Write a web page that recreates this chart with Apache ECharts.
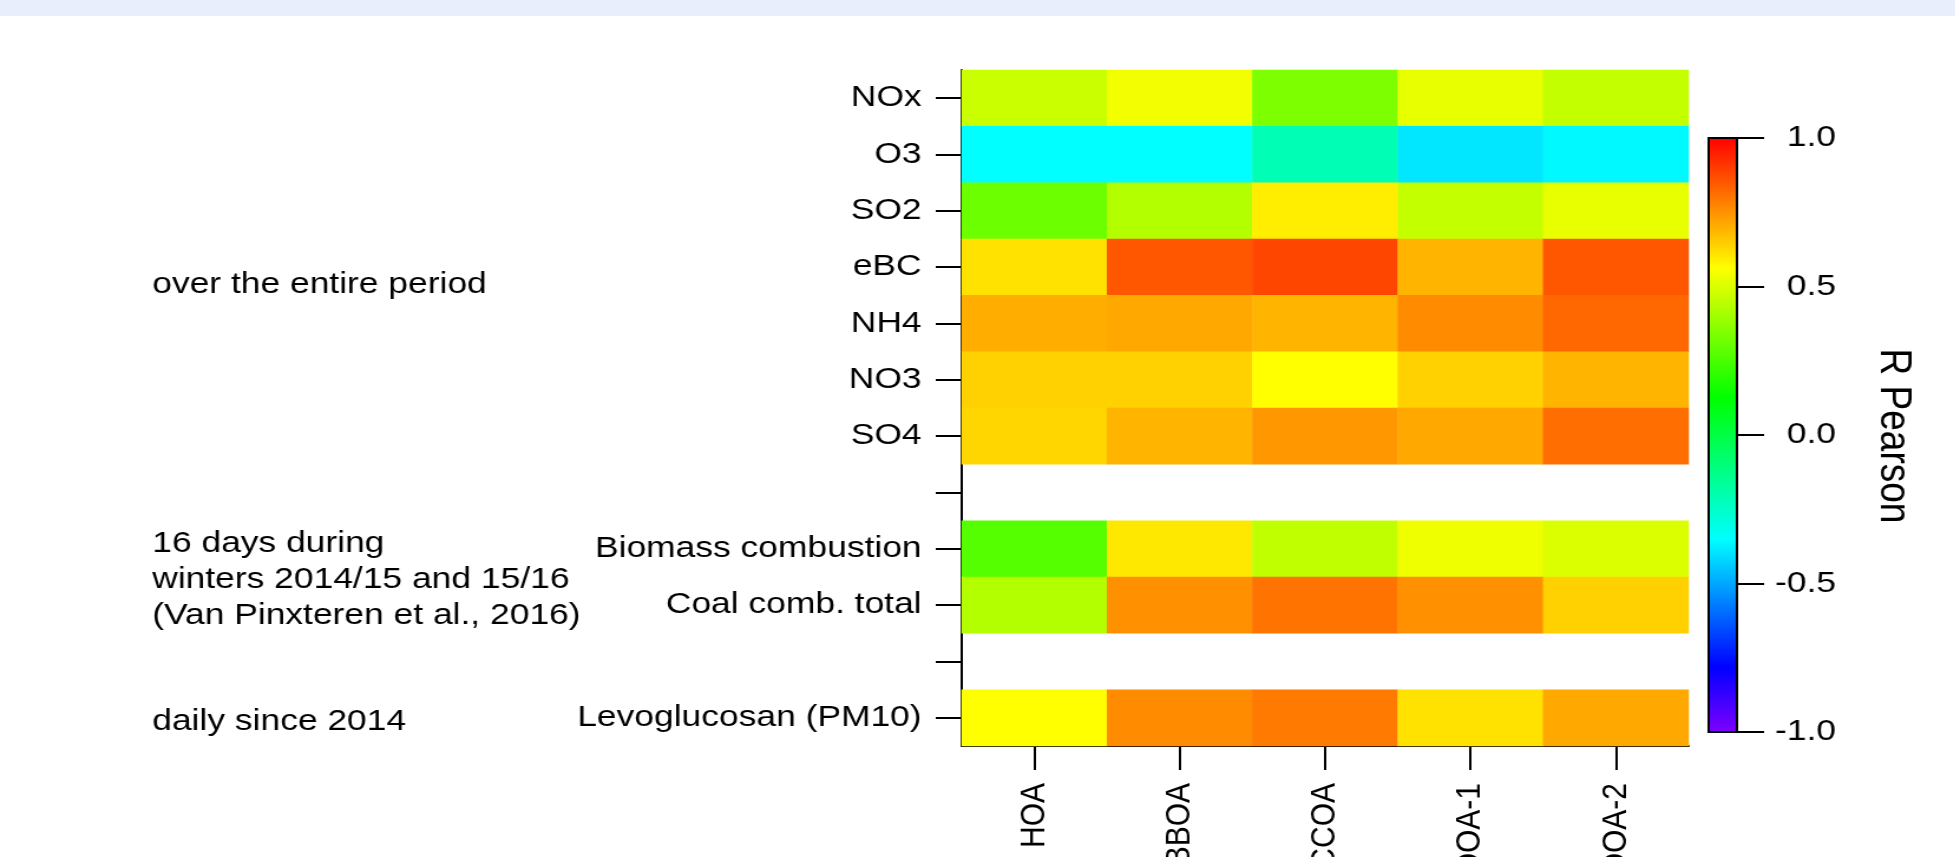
<!DOCTYPE html>
<html>
<head>
<meta charset="utf-8">
<script src="https://cdn.jsdelivr.net/npm/echarts@6/dist/echarts.min.js"></script>
<style>
html,body{margin:0;padding:0;background:#ffffff;overflow:hidden;width:1955px;height:857px;}
#chart{position:absolute;left:0;top:0;width:1657px;height:857px;transform:scaleX(1.18);transform-origin:0 0;}
#band{position:absolute;left:0;top:0;width:1955px;height:16px;background:#e8eefb;}
</style>
</head>
<body>
<div id="chart"></div>
<div id="band"></div>
<script>
// ---- data ----
const factors = ['HOA', 'BBOA', 'CCOA', 'OOA-1', 'OOA-2'];
const tracers = ['NOx', 'O3', 'SO2', 'eBC', 'NH4', 'NO3', 'SO4', '', 'Biomass combustion', 'Coal comb. total', ' ', 'Levoglucosan (PM10)'];
const rNOx      = [0.47, 0.54, 0.34, 0.52, 0.46];
const rO3       = [-0.35, -0.35, -0.21, -0.39, -0.36];
const rSO2      = [0.31, 0.43, 0.59, 0.46, 0.52];
const rEBC      = [0.61, 0.85, 0.88, 0.69, 0.85];
const rNH4      = [0.70, 0.71, 0.69, 0.76, 0.82];
const rNO3      = [0.64, 0.64, 0.56, 0.64, 0.69];
const rSO4      = [0.63, 0.69, 0.74, 0.71, 0.81];
const rBiomass  = [0.27, 0.60, 0.45, 0.535, 0.50];
const rCoal     = [0.43, 0.75, 0.80, 0.75, 0.64];
const rLevo     = [0.56, 0.76, 0.79, 0.61, 0.71];
const rowValues = [rNOx, rO3, rSO2, rEBC, rNH4, rNO3, rSO4, null, rBiomass, rCoal, null, rLevo];
const colorbarMin = -1.0, colorbarMax = 1.0, colorbarStep = 0.5;
const colorbarTitle = 'R Pearson';
const groupNotes = [
  {text: 'over the entire period', y: 285},
  {text: '16 days during\nwinters 2014/15 and 15/16\n(Van Pinxteren et al., 2016)', y: 580},
  {text: 'daily since 2014', y: 722}
];
// colour table (value -> colour), Igor-like rainbow
const cmapStops = [[-1.0, '#8000ff'], [-0.78, '#0000ff'], [-0.35, '#00ffff'], [0.125, '#00ff00'], [0.56, '#ffff00'], [1.0, '#ff0000']];

// ---- helpers ----
function hex2rgb(h){return [parseInt(h.slice(1,3),16),parseInt(h.slice(3,5),16),parseInt(h.slice(5,7),16)];}
function cmapAt(v){
  for(let i=0;i<cmapStops.length-1;i++){
    const a=cmapStops[i], b=cmapStops[i+1];
    if(v<=b[0]){
      const t=(v-a[0])/(b[0]-a[0]);
      const ca=hex2rgb(a[1]), cb=hex2rgb(b[1]);
      const c=ca.map((x,j)=>Math.round(x+(cb[j]-x)*t));
      return 'rgb('+c.join(',')+')';
    }
  }
  return cmapStops[cmapStops.length-1][1];
}
const rampColors=[];
for(let i=0;i<=200;i++){rampColors.push(cmapAt(colorbarMin+(colorbarMax-colorbarMin)*i/200));}
const gradStops = cmapStops.slice().reverse().map(s=>({offset:(colorbarMax-s[0])/(colorbarMax-colorbarMin), color:s[1]}));

const heatData=[];
rowValues.forEach((row,yi)=>{ if(row){ row.forEach((v,xi)=>heatData.push([xi,yi,v])); } });

const FONT = "'Liberation Sans', Arial, Helvetica, sans-serif";
const chart = echarts.init(document.getElementById('chart'), null, {renderer:'canvas'});
chart.setOption({
  animation:false,
  backgroundColor:'transparent',
  textStyle:{fontFamily:FONT},
  grid:[
    {left:815, width:616, top:70, height:676, containLabel:false, outerBoundsMode:'none'},
    {left:1448, width:24, top:138, height:594, containLabel:false, outerBoundsMode:'none'}
  ],
  xAxis:[
    {type:'category', gridIndex:0, data:factors, position:'bottom',
      axisLine:{show:true, lineStyle:{color:'#000', width:2}},
      axisTick:{show:true, alignWithLabel:true, length:24, lineStyle:{color:'#000', width:2}},
      axisLabel:{rotate:90, margin:37, fontSize:30, color:'#000', fontFamily:FONT, interval:0, hideOverlap:false},
      splitLine:{show:false}},
    {type:'category', gridIndex:1, data:['cb'], show:false}
  ],
  yAxis:[
    {type:'category', gridIndex:0, data:tracers, inverse:true,
      axisLine:{show:true, lineStyle:{color:'#000', width:2}},
      axisTick:{show:true, alignWithLabel:true, interval:0, length:22, lineStyle:{color:'#000', width:2}},
      axisLabel:{interval:0, margin:34, fontSize:30, color:'#000', fontFamily:FONT},
      splitLine:{show:false}},
    {type:'value', gridIndex:1, position:'right', min:colorbarMin, max:colorbarMax, interval:colorbarStep,
      axisLine:{show:true, lineStyle:{color:'#000', width:2}},
      axisTick:{show:true, inside:false, length:23, lineStyle:{color:'#000', width:2}},
      axisLabel:{align:'right', margin:84, fontSize:30, color:'#000', fontFamily:FONT,
        formatter:v=>v.toFixed(1)},
      splitLine:{show:false}}
  ],
  visualMap:{show:false, type:'continuous', min:colorbarMin, max:colorbarMax, seriesIndex:0, dimension:2,
    inRange:{color:rampColors}},
  series:[
    {type:'heatmap', xAxisIndex:0, yAxisIndex:0, data:heatData,
      itemStyle:{borderWidth:0}, emphasis:{disabled:true}, z:1},
    {type:'custom', xAxisIndex:1, yAxisIndex:1, data:[[0, colorbarMin, colorbarMax]],
      encode:{x:0, y:[1,2]}, silent:true, z:1,
      renderItem:function(params, api){
        const cs=params.coordSys;
        const yTop=api.coord([0, api.value(2)])[1];
        const yBot=api.coord([0, api.value(1)])[1];
        return {type:'rect', shape:{x:cs.x, y:yTop, width:cs.width, height:yBot-yTop},
          style:{fill:new echarts.graphic.LinearGradient(0,0,0,1,gradStops), stroke:'#000', lineWidth:2}};
      }}
  ],
  graphic:[
    ...groupNotes.map(n=>({type:'text', x:129, y:n.y,
      style:{text:n.text, fontSize:30, fontFamily:FONT, fill:'#000', align:'left', verticalAlign:'middle', lineHeight:36}})),
    {type:'text', x:1604, y:436, rotation:-Math.PI/2,
      style:{text:colorbarTitle, fontSize:37, fontFamily:FONT, fill:'#000', align:'center', verticalAlign:'middle'}}
  ]
});
</script>
</body>
</html>
